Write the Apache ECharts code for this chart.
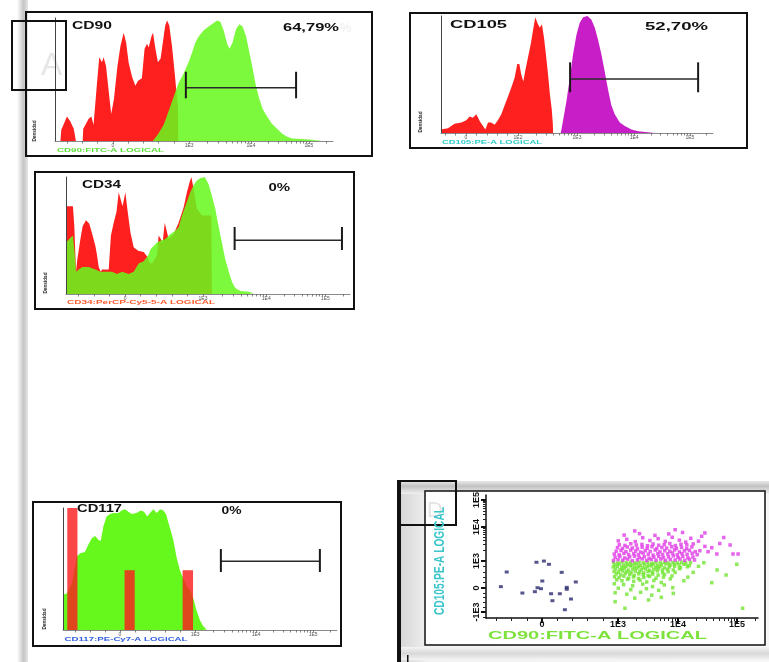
<!DOCTYPE html>
<html><head><meta charset="utf-8">
<script src="https://cdn.jsdelivr.net/npm/echarts@6/dist/echarts.min.js"></script>
<style>html,body{margin:0;padding:0;background:#fff}#c{width:769px;height:662px}</style>
</head><body><div id="c"></div>
<script>
// ---------- tick labels (channel positions on a 0..1024 logical display scale) ----------
const histTickValues = [213, 494, 722, 935];
const histTickLabels = ['0', '1E3', '1E4', '1E5'];
const cd105TickValues = [94, 290, 512, 727, 937];
const cd105TickLabels = ['0', '1E2', '1E3', '1E4', '1E5'];
const dotTickXValues = [211, 497, 723, 945];
const dotTickXLabels = ['0', '1E3', '1E4', '1E5'];
const dotTickYValues = [50, 250, 475, 758, 982];
const dotTickYLabels = ['-1E3', '0', '1E3', '1E4', '1E5'];

// ---------- histogram data: [channel, relative density %] ----------
const cd90Red = [[20,0],[23,9],[44,20],[56,16],[69,10],[75,9],[77,0],[102,0],[104,10],[124,18],[134,20],[142,13],[155,48],[163,68],[173,64],[179,68],[188,61],[198,40],[207,22],[217,34],[230,61],[241,77],[253,88],[262,80],[271,64],[284,52],[296,45],[306,49],[320,51],[330,75],[339,79],[345,76],[355,85],[361,88],[370,75],[379,64],[389,67],[399,83],[406,94],[413,98],[421,94],[431,77],[441,55],[449,36],[453,28],[454,0]];
const cd90Green = [[360,0],[378,5],[400,13],[418,24],[437,36],[455,47],[474,55],[492,64],[505,72],[517,80],[529,85],[548,90],[566,93],[584,96],[597,98],[609,97],[621,90],[634,79],[643,75],[654,80],[667,91],[679,95],[691,93],[704,85],[716,72],[728,59],[740,45],[753,34],[765,26],[781,20],[799,14],[818,10],[836,6],[855,3.5],[873,2],[910,1.6],[946,1],[983,0.3],[990,0]];
const cd90Gate = [482, 888, 43.3, 56.3, 34.7];

const cd105Red = [[0,3],[26,4],[51,8],[77,9],[95,11],[108,14],[120,13],[133,16],[146,10],[158,6],[167,3],[177,9],[189,9],[202,7],[214,11],[227,16],[240,24],[252,31],[265,39],[277,47],[287,59],[295,59],[302,50],[310,44],[317,53],[327,64],[338,76],[348,90],[355,99],[363,94],[372,90],[380,93],[388,81],[395,67],[403,50],[410,33],[417,20],[421,8],[422,0]];
const cd105Pe = [[451,0],[459,10],[472,27],[485,47],[497,67],[510,84],[522,94],[535,99],[551,100],[566,97],[579,90],[591,80],[604,67],[616,53],[629,37],[641,24],[654,16],[673,9],[692,6],[717,3],[742,1.4],[779,0.6],[804,0]];
const cd105Gate = [486, 968, 46.2, 60.4, 34.8];

const cd34Red = [[0,75],[25,75],[30,58],[36,19],[41,30],[52,47],[60,58],[72,63],[84,60],[96,50],[106,41],[112,33],[118,23],[125,19],[130,21],[154,21],[162,50],[172,61],[182,70],[190,87],[197,87],[204,75],[214,87],[221,73],[232,53],[244,40],[260,37],[280,36],[296,31],[300,27],[310,26],[328,33],[334,50],[342,47],[348,43],[356,61],[363,62],[370,47],[388,51],[406,61],[424,74],[436,87],[445,95],[452,100],[460,90],[472,73],[490,67],[508,67],[524,67],[526,0]];
const cd34Green = [[0,44],[16,48],[25,50],[31,36],[36,19],[46,21],[58,23],[82,23],[106,21],[124,19],[142,19],[166,19],[184,17],[202,19],[226,17],[244,19],[262,26],[280,28],[296,33],[304,38],[316,41],[328,44],[344,46],[358,47],[376,51],[394,54],[406,57],[418,67],[430,75],[448,87],[460,93],[472,97],[484,99],[500,100],[514,94],[526,84],[538,73],[550,58],[562,44],[574,30],[587,19],[599,10],[611,5],[629,2.6],[659,2],[677,0.6],[683,0]];
const cd34Gate = [608, 995, 45.9, 57.3, 37.6];

const cd117Green = [[1,0],[1,29],[14,30],[33,38],[51,60],[64,63],[82,64],[95,70],[107,75],[120,77],[132,74],[141,73],[151,85],[163,93],[176,95],[188,96],[207,96],[219,98],[232,99],[244,97],[257,95],[275,96],[290,98],[303,97],[315,93],[325,96],[338,99],[350,96],[363,99],[375,98],[385,95],[394,88],[402,82],[412,74],[425,59],[437,49],[450,42],[462,36],[477,32],[487,26],[499,16],[512,8],[524,3],[537,0.5],[543,0]];
const cd117Red = [[16,54,100],[230,268,49],[447,486,49]];
const cd117Gate = [590, 960, 56.3, 66.4, 47.5];

// ---------- dot plot CD90 (x) vs CD105 (y), channel units ----------
const dotBlue = [[190,464],[218,474],[237,447],[285,380],[78,383],[56,261],[212,308],[338,300],[194,252],[207,244],[184,219],[137,208],[245,202],[278,202],[304,255],[304,239],[250,144],[320,158],[297,69]];
const dotMagenta = [[480,478],[497,486],[515,481],[533,490],[551,477],[570,484],[588,492],[605,479],[622,488],[640,482],[658,491],[676,479],[694,487],[712,483],[730,490],[748,480],[766,488],[785,483],
[486,505],[504,512],[522,500],[541,509],[559,515],[577,503],[596,510],[614,498],[632,507],[650,514],[668,502],[687,509],[705,517],[723,505],[741,512],[760,501],[779,508],
[483,532],[501,526],[519,538],[537,529],[556,535],[574,527],[592,540],[611,531],[629,524],[647,537],[665,528],[684,534],[702,541],[720,526],[738,536],[757,530],[776,539],[795,527],
[490,556],[508,562],[527,552],[545,565],[563,557],[582,549],[600,561],[618,554],[637,566],[655,551],[673,560],[692,555],[710,567],[728,550],[747,559],[766,563],[788,552],
[495,586],[514,579],[532,591],[551,583],[570,576],[588,589],[607,581],[625,594],[643,578],[662,587],[680,582],[699,593],[717,580],[736,588],[755,577],[775,592],
[502,610],[523,604],[545,618],[566,607],[587,613],[608,602],[629,616],[650,606],[671,611],[692,620],[713,603],[734,614],[756,608],[780,617],
[498,642],[530,655],[562,636],[590,668],[617,645],[648,661],[675,638],[701,672],[728,648],[752,632],[771,664],[520,690],[578,702],[636,688],[688,700],[740,712],[800,640],[812,680],[560,725],[712,735],
[805,560],[824,596],[836,552],[850,585],[869,533],[880,620],[919,608],[930,533],[949,533],[824,708],[895,670]];
const dotGreen = [[480,463],[496,458],[512,465],[528,460],[544,464],[560,457],[576,463],[592,459],[608,465],[624,456],[640,462],[656,459],[672,464],[688,457],[704,462],[720,459],[736,464],[752,456],[770,461],
[485,442],[501,448],[517,438],[533,446],[549,441],[565,449],[581,437],[597,445],[613,440],[629,448],[645,436],[661,444],[677,450],[693,439],[709,446],[727,441],[745,447],[765,436],
[479,425],[495,431],[511,420],[527,428],[543,434],[559,422],[575,429],[591,418],[607,426],[623,433],[639,421],[655,428],[671,417],[690,425],[710,431],[732,419],[758,427],
[488,408],[504,402],[520,412],[536,399],[552,407],[568,414],[584,401],[600,409],[616,397],[632,405],[648,411],[664,398],[683,406],[705,400],[728,410],
[482,388],[498,381],[514,393],[530,385],[546,378],[562,390],[578,383],[594,375],[610,387],[626,380],[645,392],[665,377],[686,386],[712,380],
[490,367],[507,359],[524,372],[541,364],[558,355],[575,368],[592,360],[610,352],[628,366],[648,357],[672,362],[700,350],
[484,343],[501,336],[519,348],[537,332],[555,342],[574,329],[594,338],[616,346],[640,331],[668,340],[694,326],
[492,318],[512,310],[533,322],[556,305],[580,315],[605,300],[632,312],[660,296],
[483,285],[518,278],[552,268],[590,282],[627,262],[671,275],[498,248],[545,236],[604,244],[650,230],[703,252],[486,210],[530,198],[582,214],[624,190],[560,165],[612,150],[486,136],[523,81],[660,172],[705,205],[745,310],
[850,294],[904,358],[944,447],[966,81],[870,400],[800,430],[780,380],[760,340],[820,460]];

// ---------- helpers ----------
const FONT = '"Liberation Sans", Arial, sans-serif';
function minorTicks(vals, labels, min, max) {
  const out = vals.slice();
  for (let i = 0; i < vals.length - 1; i++) {
    const a = vals[i], b = vals[i + 1];
    if (labels[i].indexOf('1E') === 0 && labels[i + 1].indexOf('1E') === 0) {
      for (let k = 2; k <= 9; k++) out.push(a + Math.log10(k) * (b - a));
    } else {
      for (let j = 1; j <= 4; j++) out.push(a + (b - a) * j / 5);
    }
  }
  const s0 = (vals[1] - vals[0]) / 5;
  for (let v = vals[0] - s0; v > min; v -= s0) out.push(v);
  const last = vals[vals.length - 1], d = last - vals[vals.length - 2];
  for (let k = 2; k <= 9; k++) { const v = last + Math.log10(k) * d; if (v < max) out.push(v); }
  return out;
}
function labelFmt(vals, labels) {
  return v => { const i = vals.findIndex(x => Math.abs(x - v) < 0.01); return i >= 0 ? labels[i] : ''; };
}
const ctx = document.createElement('canvas').getContext('2d');
function measure(t, font) { ctx.font = font; return ctx.measureText(t).width; }
function stext(t, left, cy, width, fill, font, extra) {
  const o = { type: 'text', x: left, y: cy, z: 100, scaleX: width / measure(t, font),
    style: { text: t, font: font, fill: fill, align: 'left', verticalAlign: 'middle' } };
  return Object.assign(o, extra || {});
}
function vtext(t, cx, cy, len, fill, font, sy) {
  return { type: 'text', x: cx, y: cy, z: 100, rotation: Math.PI / 2, scaleX: len / measure(t, font), scaleY: sy || 1,
    style: { text: t, font: font, fill: fill, align: 'center', verticalAlign: 'middle' } };
}
function frame(x, y, w, h, lw) {
  return { type: 'rect', z: 100, shape: { x: x, y: y, width: w, height: h }, style: { fill: 'none', stroke: '#111', lineWidth: lw || 2 } };
}

// ---------- axes ----------
const grids = [
  { left: 55, top: 18, width: 278, height: 123 },
  { left: 441, top: 16, width: 272, height: 117 },
  { left: 66, top: 177, width: 284, height: 117 },
  { left: 63, top: 508, width: 274, height: 122 },
  { left: 486, top: 495, width: 272, height: 123 }
];
function histX(gi, vals, labels) {
  return { type: 'value', gridIndex: gi, min: 0, max: 1024, z: 6, splitLine: { show: false },
    axisLine: { show: true, lineStyle: { color: '#8a8a8a', width: 1 } },
    axisTick: { show: true, customValues: minorTicks(vals, labels, 0, 1024), length: 2.5, lineStyle: { color: '#666', width: 0.8 } },
    axisLabel: { show: true, customValues: vals, formatter: labelFmt(vals, labels), fontSize: 5, color: '#555', margin: 2, fontFamily: FONT } };
}
function histY(gi) {
  return { type: 'value', gridIndex: gi, min: 0, max: 100, z: 6, splitLine: { show: false },
    axisLine: { show: true, lineStyle: { color: '#444', width: 1 } }, axisTick: { show: false }, axisLabel: { show: false } };
}
const xAxes = [
  histX(0, histTickValues, histTickLabels),
  histX(1, cd105TickValues, cd105TickLabels),
  histX(2, histTickValues, histTickLabels),
  histX(3, histTickValues, histTickLabels),
  { type: 'value', gridIndex: 4, position: 'bottom', min: 0, max: 1024, z: 6, splitLine: { show: false },
    axisLine: { show: true, lineStyle: { color: '#111', width: 1.5 } },
    axisTick: { show: true, customValues: minorTicks(dotTickXValues, dotTickXLabels, 0, 1024), length: 3, lineStyle: { color: '#222', width: 1 } },
    axisLabel: { customValues: dotTickXValues, formatter: labelFmt(dotTickXValues, dotTickXLabels), fontSize: 9, fontWeight: 'bold', color: '#111', margin: 2, fontFamily: FONT } },
  { type: 'value', gridIndex: 4, position: 'bottom', min: 0, max: 1024, z: 6, splitLine: { show: false }, axisLine: { show: false },
    axisTick: { show: true, customValues: dotTickXValues, length: 5, lineStyle: { color: '#111', width: 2 } }, axisLabel: { show: false } }
];
const yAxes = [
  histY(0), histY(1), histY(2), histY(3),
  { type: 'value', gridIndex: 4, position: 'left', min: 0, max: 1024, z: 6, splitLine: { show: false },
    axisLine: { show: true, lineStyle: { color: '#111', width: 1.5 } },
    axisTick: { show: true, customValues: minorTicks(dotTickYValues, dotTickYLabels, 0, 1024), length: 3, lineStyle: { color: '#222', width: 1 } },
    axisLabel: { customValues: dotTickYValues, formatter: labelFmt(dotTickYValues, dotTickYLabels), rotate: 90, fontSize: 9, fontWeight: 'bold', color: '#111', margin: 5, fontFamily: FONT } },
  { type: 'value', gridIndex: 4, position: 'left', min: 0, max: 1024, z: 6, splitLine: { show: false }, axisLine: { show: false },
    axisTick: { show: true, customValues: dotTickYValues, length: 5, lineStyle: { color: '#111', width: 2 } }, axisLabel: { show: false } }
];

// ---------- series ----------
function area(ai, data, color, opacity, z) {
  return { type: 'line', xAxisIndex: ai, yAxisIndex: ai, data: data, symbol: 'none', silent: true, z: z || 2,
    lineStyle: { width: 0, color: color }, areaStyle: { color: color, opacity: opacity } };
}
function gate(ai, g) {
  return { type: 'custom', xAxisIndex: ai, yAxisIndex: ai, data: [g], silent: true, z: 10,
    renderItem: function (params, api) {
      const a = api.coord([api.value(0), api.value(2)]), b = api.coord([api.value(1), api.value(2)]);
      const t = api.coord([api.value(0), api.value(3)]), bt = api.coord([api.value(0), api.value(4)]);
      const st = { stroke: '#2a2a2a', lineWidth: 1.4 };
      return { type: 'group', children: [
        { type: 'line', shape: { x1: a[0], y1: a[1], x2: b[0], y2: b[1] }, style: st },
        { type: 'line', shape: { x1: a[0], y1: t[1], x2: a[0], y2: bt[1] }, style: { stroke: '#1a1a1a', lineWidth: 2 } },
        { type: 'line', shape: { x1: b[0], y1: t[1], x2: b[0], y2: bt[1] }, style: { stroke: '#1a1a1a', lineWidth: 2 } }
      ] };
    } };
}
const series = [
  area(0, cd90Red, '#fe1f1f', 1, 2),
  area(0, cd90Green, '#66f81c', 0.86, 3),
  gate(0, cd90Gate),
  area(1, cd105Red, '#fe1f1f', 1, 2),
  area(1, cd105Pe, '#c81ec8', 1, 3),
  gate(1, cd105Gate),
  area(2, cd34Red, '#fe1f1f', 1, 2),
  area(2, cd34Green, '#66f81c', 0.86, 3),
  gate(2, cd34Gate),
  area(3, cd117Green, '#66f81c', 1, 2),
  { type: 'custom', xAxisIndex: 3, yAxisIndex: 3, data: cd117Red, silent: true, z: 4,
    renderItem: function (params, api) {
      const p0 = api.coord([api.value(0), api.value(2)]), p1 = api.coord([api.value(1), 0]);
      return { type: 'rect', shape: { x: p0[0], y: p0[1], width: p1[0] - p0[0], height: p1[1] - p0[1] },
        style: { fill: 'rgba(250,30,30,0.82)' } };
    } },
  gate(3, cd117Gate),
  { type: 'scatter', xAxisIndex: 4, yAxisIndex: 4, data: dotGreen, symbol: 'rect', symbolSize: 3.5, itemStyle: { color: '#72e532' }, silent: true, z: 7 },
  { type: 'scatter', xAxisIndex: 4, yAxisIndex: 4, data: dotMagenta, symbol: 'rect', symbolSize: 3.5, itemStyle: { color: '#e03ce6' }, silent: true, z: 7 },
  { type: 'scatter', xAxisIndex: 4, yAxisIndex: 4, data: dotBlue, symbol: 'rect', symbolSize: [4, 3], itemStyle: { color: '#2c2c70' }, silent: true, z: 7 }
];

// ---------- decorations and texts ----------
const B = 'bold 11px ' + FONT;
const elements = [
  { type: 'rect', z: 0, shape: { x: 17, y: 0, width: 11, height: 662 },
    style: { fill: { type: 'linear', x: 0, y: 0, x2: 1, y2: 0, colorStops: [{ offset: 0, color: '#ffffff' }, { offset: 0.6, color: '#c4c4c4' }, { offset: 1, color: '#e6e6e6' }] } } },
  { type: 'rect', z: 0, shape: { x: 400, y: 481, width: 369, height: 181 },
    style: { fill: { type: 'linear', x: 0, y: 0, x2: 1, y2: 0, colorStops: [{ offset: 0, color: '#d6d6d6' }, { offset: 0.08, color: '#f2f2f2' }, { offset: 1, color: '#f7f7f7' }] } } },
  { type: 'rect', z: 0, shape: { x: 400, y: 481, width: 369, height: 13 },
    style: { fill: { type: 'linear', x: 0, y: 0, x2: 0, y2: 1, colorStops: [{ offset: 0, color: '#e8e8e8' }, { offset: 0.4, color: '#c2c2c2' }, { offset: 1, color: '#f0f0f0' }] } } },
  { type: 'rect', z: 0, shape: { x: 400, y: 647, width: 369, height: 13 },
    style: { fill: { type: 'linear', x: 0, y: 0, x2: 0, y2: 1, colorStops: [{ offset: 0, color: '#f4f4f4' }, { offset: 0.5, color: '#d8d8d8' }, { offset: 1, color: '#f4f4f4' }] } } },
  { type: 'rect', z: 1, shape: { x: 425, y: 491, width: 340, height: 154 }, style: { fill: '#ffffff' } },
  frame(26, 12, 346, 144), frame(410, 13, 337, 135), frame(35, 172, 319, 137), frame(33, 502, 308, 144),
  frame(425, 491, 340, 154, 1.5), frame(12, 21, 54, 69), frame(398, 481, 58, 44),
  { type: 'rect', z: 100, shape: { x: 397, y: 481, width: 4, height: 181 }, style: { fill: '#111' } },
  { type: 'rect', z: 100, shape: { x: 407, y: 655, width: 1.5, height: 7 }, style: { fill: '#111' } },
  // faint leftovers of panel letters
  { type: 'text', z: 1, x: 41, y: 66, style: { text: 'A', font: '32px ' + FONT, fill: '#e6e6e6', verticalAlign: 'middle' } },
  { type: 'text', z: 1, x: 340, y: 28, style: { text: '%', font: 'bold 13px ' + FONT, fill: '#f2f2f2', verticalAlign: 'middle' } },
  { type: 'text', z: 2, x: 427, y: 511, style: { text: 'D', font: '22px ' + FONT, fill: '#e4e4e4', verticalAlign: 'middle' } },
  // titles and percentages
  stext('CD90', 72, 26, 40, '#111', B),
  stext('64,79%', 283, 27.5, 56, '#111', B),
  stext('CD105', 450, 25, 57, '#111', B),
  stext('52,70%', 645, 26.5, 63, '#111', B),
  stext('CD34', 82, 185, 39, '#111', B),
  stext('0%', 268.5, 188.3, 21.6, '#111', B),
  stext('CD117', 77, 509.3, 45, '#111', B),
  stext('0%', 221.5, 511.3, 20, '#111', B),
  // axis names
  stext('CD90:FITC-A LOGICAL', 57, 150.5, 107, '#5ee03a', 'bold 6px ' + FONT),
  stext('CD105:PE-A LOGICAL', 442, 142, 100, '#2ccccc', 'bold 6px ' + FONT),
  stext('CD34:PerCP-Cy5-5-A LOGICAL', 67, 302.5, 148, '#ff5a2a', 'bold 6px ' + FONT),
  stext('CD117:PE-Cy7-A LOGICAL', 64.5, 639.5, 123, '#2f5fe0', 'bold 6px ' + FONT),
  stext('CD90:FITC-A LOGICAL', 488, 636, 219, '#7de23c', 'bold 11px ' + FONT),
  vtext('CD105:PE-A LOGICAL', 440.5, 561, 108, '#3cc6cc', 'bold 11px ' + FONT, 1.3),
  vtext('Densidad', 34, 131, 21, '#222', 'bold 6px ' + FONT),
  vtext('Densidad', 420.5, 122, 21, '#222', 'bold 6px ' + FONT),
  vtext('Densidad', 45.5, 283, 21, '#222', 'bold 6px ' + FONT),
  vtext('Densidad', 44, 619, 21, '#222', 'bold 6px ' + FONT)
];

const chart = echarts.init(document.getElementById('c'), null, { renderer: 'canvas' });
chart.setOption({
  backgroundColor: '#ffffff',
  animation: false,
  grid: grids,
  xAxis: xAxes,
  yAxis: yAxes,
  series: series,
  graphic: { elements: elements }
});
</script></body></html>
